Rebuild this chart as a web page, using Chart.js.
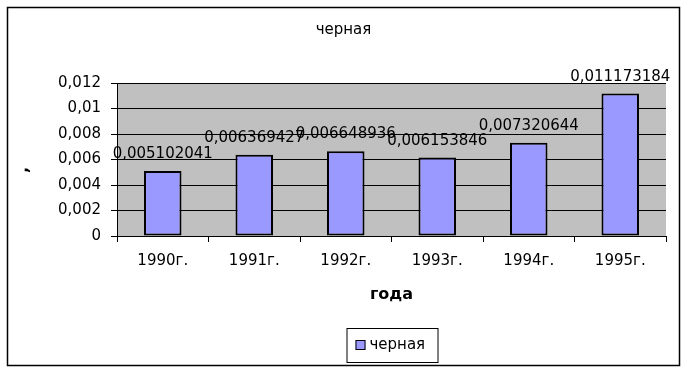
<!DOCTYPE html>
<html>
<head>
<meta charset="utf-8">
<script src="https://cdn.jsdelivr.net/npm/chart.js@4"></script>
<style>
    html, body { margin: 0; padding: 0; background: #fff; }
    #wrap { width: 687px; height: 373px; position: relative; }
</style>
</head>
<body>
<div id="wrap"><canvas id="chart"></canvas></div>
<script>
// Data
const years = ['1990г.', '1991г.', '1992г.', '1993г.', '1994г.', '1995г.'];
const blackValues = [0.005102041, 0.006369427, 0.006648936, 0.006153846, 0.007320644, 0.011173184];
const blackLabels = ['0,005102041', '0,006369427', '0,006648936', '0,006153846', '0,007320644', '0,011173184'];
const yTickValues = [0, 0.002, 0.004, 0.006, 0.008, 0.01, 0.012];
const yTickLabels = ['0', '0,002', '0,004', '0,006', '0,008', '0,01', '0,012'];

const seriesName = 'черная';
const chartTitle = 'черная';
const xTitle = 'года';
const yTitle = ',';

const FONT = "'DejaVu Sans', sans-serif";

Chart.defaults.font.family = FONT;
Chart.defaults.font.size = 15;
Chart.defaults.color = '#000';

/**
 * Frame, plot background, titles, value labels and legend
 */
const decorations = {
    id: 'decorations',
    beforeDraw(chart) {
        const { ctx, chartArea } = chart;
        ctx.save();
        ctx.fillStyle = '#fff';
        ctx.fillRect(0, 0, chart.width, chart.height);
        ctx.fillStyle = '#c0c0c0';
        ctx.fillRect(chartArea.left, chartArea.top, chartArea.right - chartArea.left, chartArea.bottom - chartArea.top);
        ctx.strokeStyle = '#000';
        ctx.lineWidth = 1.5;
        ctx.strokeRect(7.5, 7.5, 672, 358);
        ctx.restore();
    },
    afterDraw(chart) {
        const { ctx, chartArea } = chart;
        const midX = (chartArea.left + chartArea.right) / 2;
        ctx.save();
        ctx.fillStyle = '#000';
        ctx.textAlign = 'center';
        ctx.textBaseline = 'middle';

        // chart title
        ctx.font = `15px ${FONT}`;
        ctx.fillText(chartTitle, 343.5, 30);

        // x axis title
        ctx.font = `bold 16px ${FONT}`;
        ctx.fillText(xTitle, midX, 295);

        // y axis title
        ctx.save();
        ctx.translate(24, 170);
        ctx.rotate(-Math.PI / 2);
        ctx.fillText(yTitle, 0, 0);
        ctx.restore();

        // value labels above bars
        ctx.font = `15px ${FONT}`;
        ctx.textBaseline = 'alphabetic';
        chart.getDatasetMeta(0).data.forEach((bar, i) => {
            ctx.fillText(blackLabels[i], bar.x, bar.y - 13);
        });

        // legend
        ctx.fillStyle = '#fff';
        ctx.fillRect(midX - 45, 328, 91, 34);
        ctx.strokeStyle = '#000';
        ctx.lineWidth = 1;
        ctx.strokeRect(midX - 45 + 0.5, 328.5, 91, 34);
        ctx.fillStyle = '#9999ff';
        ctx.fillRect(midX - 36, 340, 10, 10);
        ctx.strokeRect(midX - 36 + 0.5, 340.5, 9, 9);
        ctx.fillStyle = '#000';
        ctx.textAlign = 'left';
        ctx.textBaseline = 'middle';
        ctx.fillText(seriesName, midX - 22, 345);
        ctx.restore();
    }
};

new Chart(document.getElementById('chart'), {
    type: 'bar',
    data: {
        labels: years,
        datasets: [{
            label: seriesName,
            data: blackValues,
            backgroundColor: '#9999ff',
            borderColor: '#000',
            borderWidth: 2,
            borderSkipped: false,
            barPercentage: 0.41,
            categoryPercentage: 1
        }]
    },
    options: {
        responsive: true,
        maintainAspectRatio: false,
        animation: false,
        layout: {
            padding: { top: 83, right: 21, left: 0, bottom: 0 }
        },
        plugins: {
            legend: { display: false },
            title: { display: false },
            tooltip: { enabled: false }
        },
        scales: {
            x: {
                grid: {
                    display: true,
                    drawOnChartArea: false,
                    offset: true,
                    color: '#000',
                    tickLength: 6
                },
                border: { color: '#000' },
                ticks: { padding: 10, maxRotation: 0 },
                afterFit(scale) { scale.height = 137; }
            },
            y: {
                min: 0,
                max: 0.012,
                grid: {
                    color: '#000',
                    tickLength: 6
                },
                border: { color: '#000' },
                ticks: {
                    padding: 10,
                    callback: (v, i) => yTickLabels[i]
                },
                afterBuildTicks(scale) {
                    scale.ticks = yTickValues.map(v => ({ value: v }));
                },
                afterFit(scale) { scale.width = 117; }
            }
        }
    },
    plugins: [decorations]
});
</script>
</body>
</html>
